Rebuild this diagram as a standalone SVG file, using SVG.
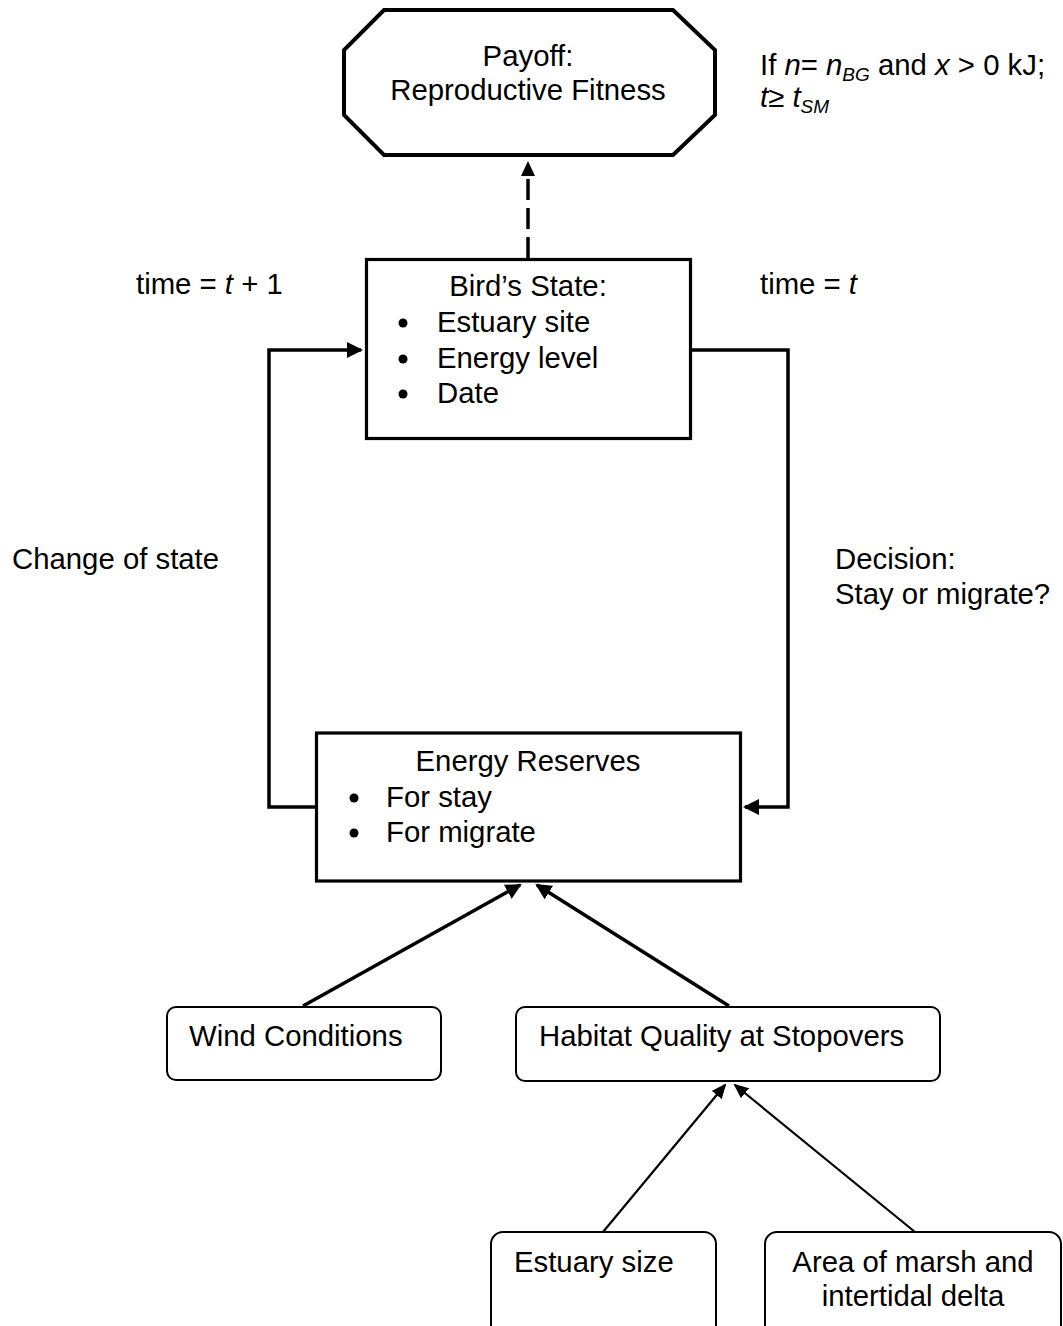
<svg xmlns="http://www.w3.org/2000/svg" width="1063" height="1326" viewBox="0 0 1063 1326">
<style>
text{font-family:"Liberation Sans",Arial,sans-serif;font-size:29.33px;fill:#000}
.c{text-anchor:middle}
.i{font-style:italic}
.sub{font-size:19px;font-style:italic}
.thick{fill:#fff;stroke:#000;stroke-width:3.2}
.thin{fill:#fff;stroke:#000;stroke-width:2}
.conn{fill:none;stroke:#000;stroke-width:3.5;stroke-linejoin:miter}
.conn2{fill:none;stroke:#000;stroke-width:2.2}
</style>
<defs>
<marker id="ah" viewBox="0 0 16 16" refX="14" refY="8" markerWidth="16" markerHeight="16" orient="auto" markerUnits="userSpaceOnUse"><path d="M0,0 L16,8 L0,16 z" fill="#000"/></marker>
<marker id="ahs" viewBox="0 0 15 13" refX="13" refY="6.5" markerWidth="15" markerHeight="13" orient="auto" markerUnits="userSpaceOnUse"><path d="M0,0 L15,6.5 L0,13 z" fill="#000"/></marker>
<marker id="ahd" viewBox="0 0 15 14" refX="0" refY="7" markerWidth="15" markerHeight="14" orient="auto" markerUnits="userSpaceOnUse"><path d="M0,0 L15,7 L0,14 z" fill="#000"/></marker>
</defs>
<rect width="1063" height="1326" fill="#fff"/>

<g id="connectors">
<path class="conn" d="M528,258 V176" stroke-width="4" stroke-dasharray="21,8" marker-end="url(#ahd)"/>
<path class="conn" d="M316.5,807 H269 V350 H361" marker-end="url(#ah)"/>
<path class="conn" d="M690.5,350 H788 V807 H745" marker-end="url(#ah)"/>
<path class="conn" d="M303,1006 L520,885" marker-end="url(#ah)"/>
<path class="conn" d="M729,1006 L537,885" marker-end="url(#ah)"/>
<path class="conn2" d="M603,1232 L725,1085" marker-end="url(#ahs)"/>
<path class="conn2" d="M915,1232 L735,1085" marker-end="url(#ahs)"/>
</g>

<g id="payoff">
<polygon points="384,10 673,10 715,50 715,115 673,155 384,155 344,115 344,50" fill="#fff" stroke="#000" stroke-width="4"/>
<text class="c" x="528" y="66">Payoff:</text>
<text class="c" x="528" y="100">Reproductive Fitness</text>
</g>

<g id="condition">
<text x="760" y="75">If <tspan class="i">n</tspan>= <tspan class="i">n</tspan><tspan class="sub" dy="6">BG</tspan><tspan dy="-6"> and </tspan><tspan class="i">x</tspan> &gt; 0 kJ;</text>
<text x="760" y="107"><tspan class="i">t</tspan>≥ <tspan class="i">t</tspan><tspan class="sub" dy="6">SM</tspan></text>
</g>

<g id="label-time-t1"><text x="136" y="294">time = <tspan class="i">t</tspan> + 1</text></g>
<g id="label-time-t"><text x="760" y="294">time = <tspan class="i">t</tspan></text></g>
<g id="label-change"><text x="12" y="569">Change of state</text></g>
<g id="label-decision"><text x="835" y="569">Decision:</text><text x="835" y="604">Stay or migrate?</text></g>

<g id="birds-state">
<rect class="thick" x="366.5" y="259.5" width="324" height="179"/>
<text class="c" x="528" y="296">Bird’s State:</text>
<circle cx="403" cy="323" r="4.5"/><text x="437" y="332">Estuary site</text>
<circle cx="403" cy="359" r="4.5"/><text x="437" y="368">Energy level</text>
<circle cx="403" cy="394" r="4.5"/><text x="437" y="403">Date</text>
</g>

<g id="energy-reserves">
<rect class="thick" x="316.5" y="733" width="424" height="148"/>
<text class="c" x="528" y="771">Energy Reserves</text>
<circle cx="354" cy="798" r="4.5"/><text x="386" y="807">For stay</text>
<circle cx="354" cy="833" r="4.5"/><text x="386" y="842">For migrate</text>
</g>

<g id="wind">
<rect class="thin" x="167" y="1007" width="274" height="73" rx="9"/>
<text x="189" y="1046">Wind Conditions</text>
</g>

<g id="habitat">
<rect class="thin" x="516" y="1007" width="424" height="74" rx="9"/>
<text x="539" y="1046">Habitat Quality at Stopovers</text>
</g>

<g id="estuary-size">
<rect class="thin" x="491" y="1232" width="225" height="110" rx="12"/>
<text x="514" y="1272">Estuary size</text>
</g>

<g id="marsh-area">
<rect class="thin" x="765" y="1232" width="296" height="110" rx="12"/>
<text class="c" x="913" y="1272">Area of marsh and</text>
<text class="c" x="913" y="1306">intertidal delta</text>
</g>
</svg>
